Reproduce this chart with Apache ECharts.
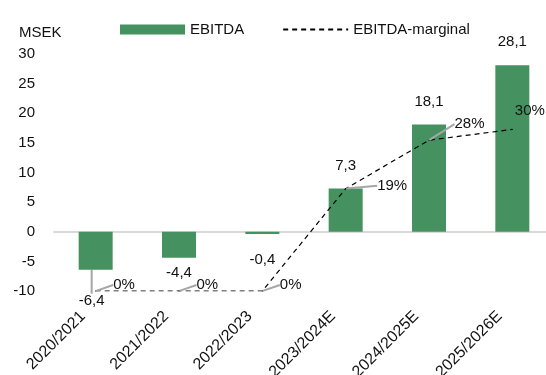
<!DOCTYPE html>
<html>
<head>
<meta charset="utf-8">
<script src="https://cdn.jsdelivr.net/npm/echarts@6/dist/echarts.min.js"></script>
<style>
  html, body { margin: 0; padding: 0; background: #fff; }
  #chart { width: 546px; height: 375px; }
</style>
</head>
<body>
<div id="chart"></div>
<script>
const categories = ['2020/2021', '2021/2022', '2022/2023', '2023/2024E', '2024/2025E', '2025/2026E'];
const ebitda = [-6.4, -4.4, -0.4, 7.3, 18.1, 28.1];
const margin = [0, 0, 0, 19, 28, 30];
const yTicks = { min: -10, max: 30, interval: 5 };

// label shifts (style only)
const barLabelShift = [[-4, 16], [0, 0], [0, 10], [0, -7], [0, -7], [0, -8]];
const lineLabelShift = [[12, -6], [12, -6], [12, -6], [26, -3], [20, -16], [-3, -19]];

const font = 'Liberation Sans';
const fmt = v => String(v).replace('.', ',');
const guide = { lineStyle: { color: '#a6a6a6', width: 2 } };

const chart = echarts.init(document.getElementById('chart'));
chart.setOption({
    animation: false,
    textStyle: { fontFamily: font },
    title: {
        text: 'MSEK',
        left: 14,
        top: 20,
        textStyle: { fontFamily: font, fontSize: 15, fontWeight: 'normal', color: '#111' }
    },
    legend: {
        left: 115,
        top: 17,
        itemWidth: 65,
        itemHeight: 10,
        itemGap: 38,
        textStyle: { fontFamily: font, fontSize: 15, color: '#111' },
        data: [
            { name: 'EBITDA', icon: 'rect' },
            { name: 'EBITDA-marginal', itemStyle: { opacity: 0 } }
        ]
    },
    grid: { left: 54, right: -8, top: 54, bottom: 84, outerBoundsMode: 'none', containLabel: false },
    xAxis: {
        type: 'category',
        data: categories,
        axisTick: { show: false },
        axisLine: { lineStyle: { color: '#d9d9d9', width: 2 } },
        axisLabel: {
            rotate: 45,
            interval: 0,
            fontSize: 16,
            color: '#111',
            margin: 10,
            padding: [0, 18, 0, 0]
        }
    },
    yAxis: [
        {
            type: 'value',
            min: yTicks.min,
            max: yTicks.max,
            interval: yTicks.interval,
            splitLine: { show: false },
            axisLine: { show: false },
            axisTick: { show: false },
            axisLabel: { fontSize: 15, color: '#111', margin: 19 }
        },
        {
            type: 'value',
            min: 0,
            max: 44,
            show: false,
            splitLine: { show: false }
        }
    ],
    series: [
        {
            name: 'EBITDA',
            type: 'bar',
            data: ebitda.map((v, i) => ({ value: v, labelLine: { show: i === 0 } })),
            barWidth: 34,
            itemStyle: { color: '#45915f' },
            label: {
                show: true,
                position: 'outside',
                distance: 8,
                fontSize: 15,
                color: '#111',
                formatter: p => fmt(p.value)
            },
            labelLine: guide,
            labelLayout: p => {
                const s = barLabelShift[p.dataIndex];
                return { dx: s[0], dy: s[1] };
            }
        },
        {
            name: 'EBITDA-marginal',
            type: 'line',
            yAxisIndex: 1,
            data: margin.map((v, i) => ({ value: v, labelLine: { show: i < 5 } })),
            symbol: 'circle',
            symbolSize: 1,
            itemStyle: { color: '#000' },
            lineStyle: { color: '#000', width: 1.2, type: [5, 4] },
            label: {
                show: true,
                position: 'right',
                distance: 5,
                fontSize: 15,
                color: '#111',
                formatter: p => p.value + '%'
            },
            labelLine: guide,
            labelLayout: p => {
                const s = lineLabelShift[p.dataIndex];
                return { dx: s[0], dy: s[1] };
            }
        }
    ]
});
</script>
</body>
</html>
